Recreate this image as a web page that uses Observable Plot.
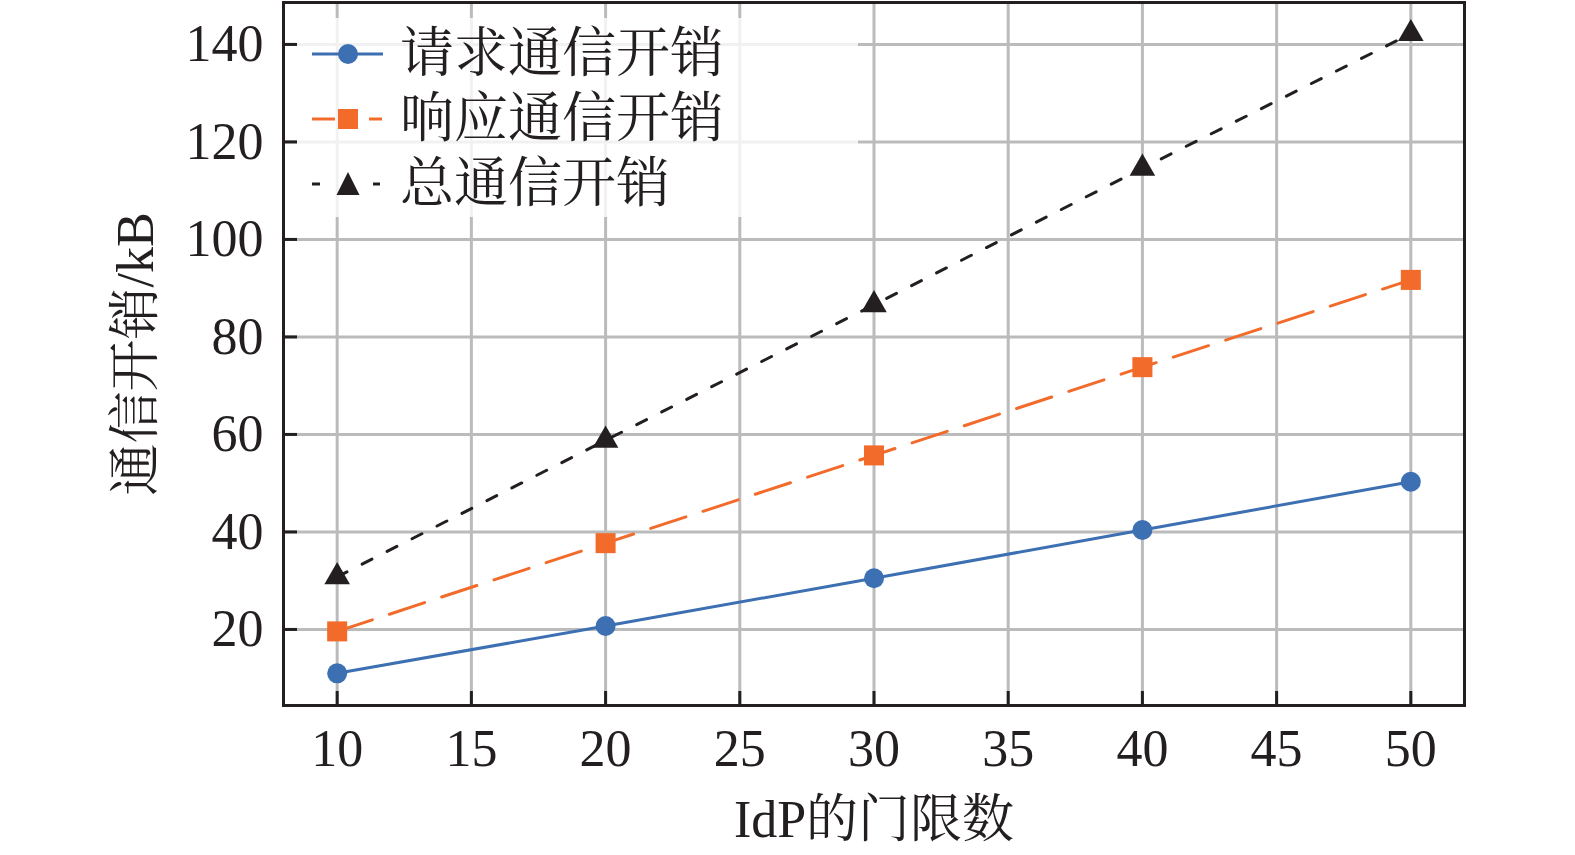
<!DOCTYPE html>
<html>
<head>
<meta charset="utf-8">
<script src="https://cdn.jsdelivr.net/npm/d3@7"></script>
<script src="https://cdn.jsdelivr.net/npm/@observablehq/plot@0.6"></script>
<style>
  html, body { margin: 0; padding: 0; background: #fff; }
  #wrap { position: relative; width: 1575px; height: 855px; overflow: hidden; }
  #legend {
    position: absolute; left: 297px; top: 18px; width: 561px; height: 199px;
    background: rgba(255,255,255,0.8); box-sizing: border-box; padding-top: 3px;
    font-family: "Liberation Serif", "Noto Serif CJK SC", "Noto Sans CJK SC", serif;
    font-size: 54px; color: #231f20;
  }
  .row { display: flex; align-items: center; height: 65px; padding-left: 15px; }
  .row svg { flex: none; margin-right: 17px; }
  .row span { line-height: 1; white-space: nowrap; }
</style>
</head>
<body>
<div id="wrap"></div>
<script>
const xValues = [10, 20, 30, 40, 50];
const requestCost = [11.0, 20.7, 30.5, 40.4, 50.3];
const responseCost = [19.6, 37.7, 55.7, 73.8, 91.7];
const totalCost = [30.8, 58.8, 86.6, 114.6, 142.2];
const seriesNames = ["请求通信开销", "响应通信开销", "总通信开销"];
const xTicks = [10, 15, 20, 25, 30, 35, 40, 45, 50];
const yTicks = [20, 40, 60, 80, 100, 120, 140];
const xLabel = "IdP的门限数";
const yLabel = "通信开销/kB";

const colors = ["#3d70b2", "#f26b2b", "#231f20"];
const FONT = '"Liberation Serif", "Noto Serif CJK SC", "Noto Sans CJK SC", serif';

const rows = (vals) => xValues.map((x, i) => ({x, v: vals[i]}));
const reqRows = rows(requestCost);
const resRows = rows(responseCost);
const totRows = rows(totalCost);

const chart = Plot.plot({
  width: 1575,
  height: 855,
  marginLeft: 283,
  marginRight: 111,
  marginTop: 2,
  marginBottom: 150,
  style: {fontFamily: FONT, fontSize: "52px", color: "#231f20", background: "white"},
  x: {domain: [8, 52]},
  y: {domain: [4.4, 148.6]},
  marks: [
    Plot.gridX(xTicks, {stroke: "#bbbbbb", strokeOpacity: 1, strokeWidth: 3}),
    Plot.gridY(yTicks, {stroke: "#bbbbbb", strokeOpacity: 1, strokeWidth: 3}),
    Plot.line(totRows, {x: "x", y: "v", stroke: colors[2], strokeWidth: 3, strokeDasharray: "11,17"}),
    Plot.line(resRows, {x: "x", y: "v", stroke: colors[1], strokeWidth: 3, strokeDasharray: "37,18"}),
    Plot.line(reqRows, {x: "x", y: "v", stroke: colors[0], strokeWidth: 3}),
    Plot.dot(reqRows, {x: "x", y: "v", symbol: "circle", r: 10, fill: colors[0]}),
    Plot.dot(resRows, {x: "x", y: "v", symbol: "square", r: 11.3, fill: colors[1]}),
    Plot.dot(totRows, {x: "x", y: "v", symbol: "triangle", r: 9.5, fill: colors[2]}),
    Plot.axisX(xTicks, {tickSize: 0, tickPadding: 24, fontSize: 52, label: xLabel, labelAnchor: "center", labelArrow: "none", labelOffset: 131}),
    Plot.axisX(xTicks, {tickSize: -14, text: null, label: null, strokeWidth: 3, stroke: "#231f20"}),
    Plot.axisY(yTicks, {tickSize: 0, tickPadding: 20, fontSize: 52, label: yLabel, labelAnchor: "center", labelArrow: "none", labelOffset: 167}),
    Plot.axisY(yTicks, {tickSize: -14, text: null, label: null, strokeWidth: 3, stroke: "#231f20"}),
    Plot.frame({stroke: "#231f20", strokeWidth: 3})
  ]
});

const wrap = document.getElementById("wrap");
wrap.appendChild(chart);

// Legend
const legend = document.createElement("div");
legend.id = "legend";
const NS = "http://www.w3.org/2000/svg";
const swatchSegments = [[[0, 71]], [[0, 23], [57, 70]], [[0, 8], [61, 68]]];
const symbols = ["circle", "square", "triangle"];
seriesNames.forEach((name, i) => {
  const row = document.createElement("div");
  row.className = "row";
  const svg = document.createElementNS(NS, "svg");
  svg.setAttribute("width", 71);
  svg.setAttribute("height", 30);
  swatchSegments[i].forEach(([a, b]) => {
    const l = document.createElementNS(NS, "line");
    l.setAttribute("x1", a); l.setAttribute("x2", b);
    l.setAttribute("y1", 15); l.setAttribute("y2", 15);
    l.setAttribute("stroke", colors[i]); l.setAttribute("stroke-width", 3);
    svg.appendChild(l);
  });
  let s;
  if (symbols[i] === "circle") {
    s = document.createElementNS(NS, "circle");
    s.setAttribute("cx", 36); s.setAttribute("cy", 15); s.setAttribute("r", 10);
  } else if (symbols[i] === "square") {
    s = document.createElementNS(NS, "rect");
    s.setAttribute("x", 26); s.setAttribute("y", 5); s.setAttribute("width", 20); s.setAttribute("height", 20);
  } else {
    s = document.createElementNS(NS, "path");
    s.setAttribute("d", "M36,3 L47.5,26 L24.5,26 Z");
  }
  s.setAttribute("fill", colors[i]);
  svg.appendChild(s);
  row.appendChild(svg);
  const t = document.createElement("span");
  t.textContent = name;
  row.appendChild(t);
  legend.appendChild(row);
});
wrap.appendChild(legend);
</script>
</body>
</html>
